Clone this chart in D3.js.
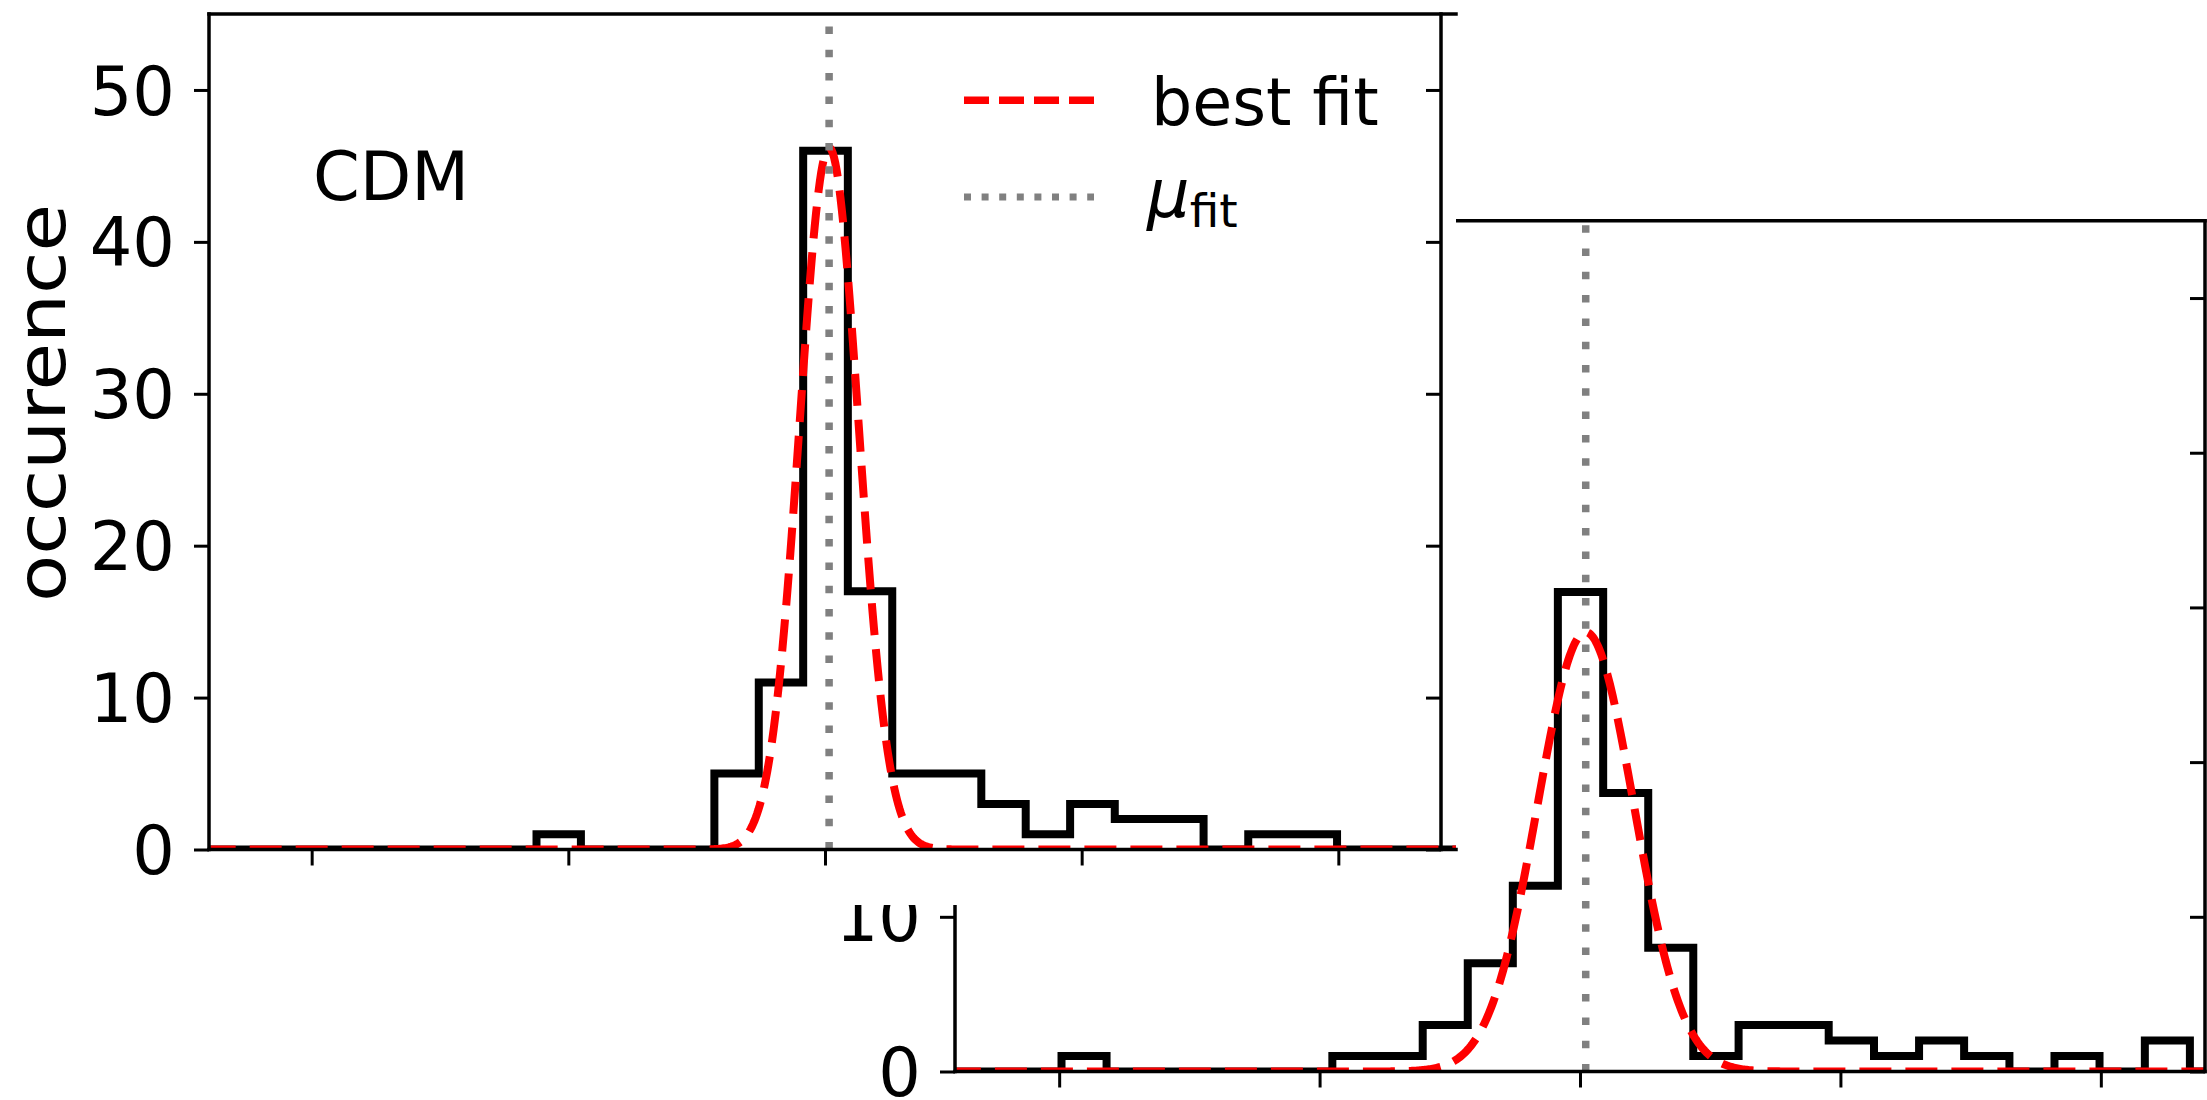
<!DOCTYPE html>
<html>
<head>
<meta charset="utf-8">
<script src="https://cdn.jsdelivr.net/npm/d3@7"></script>
<style>
body { margin: 0; background: #fff; }
text { font-family: "DejaVu Sans", sans-serif; fill: #000; }
</style>
</head>
<body>
<div id="chart"></div>
<script>

// shared bin edges of both histograms
var binEdges = [-2.511, -2.338, -2.165, -1.991, -1.818, -1.645, -1.471, -1.298, -1.124, -0.951,
                -0.778, -0.604, -0.431, -0.258, -0.085, 0.089, 0.262, 0.435, 0.609, 0.782,
                0.955, 1.129, 1.302, 1.475, 1.649, 1.822, 1.995, 2.169, 2.342, 2.515];

// counts per bin, front panel (CDM) and the panel behind it
var countsCDM   = [0, 0, 0, 0, 0, 0, 0, 0, 1, 0, 0, 0, 5, 11, 46, 17, 5, 5, 3, 1, 3, 2, 2, 0, 1, 1, 0, 0, 0];
var countsOther = [0, 0, 0, 1, 0, 0, 0, 0, 0, 1, 1, 3, 7, 12, 31, 18, 8, 1, 3, 3, 2, 1, 2, 1, 0, 1, 0, 2, 0];

// gaussian best fit parameters [CDM, other]
var fitMu    = [0.016, 0.022];
var fitSigma = [0.115, 0.185];
var fitAmp   = [46.2, 28.4];

var yTicks = [0, 10, 20, 30, 40, 50];
var xTicks = [-2, -1, 0, 1, 2];
var xDomain = [-2.4, 2.4];
var yDomain = [0, 55];

var svg = d3.select('#chart').append('svg')
    .attr('width', 2207)
    .attr('height', 1100);

var defs = svg.append('defs');

function drawPanel(id, box, counts, k) {
    var x = d3.scaleLinear().domain(xDomain).range([box.x0, box.x1]);
    var y = d3.scaleLinear().domain(yDomain).range([box.y1, box.y0]);

    defs.append('clipPath').attr('id', 'clip' + id)
        .append('rect')
        .attr('x', box.x0).attr('y', box.y0)
        .attr('width', box.clipX1 - box.x0).attr('height', box.y1 - box.y0);

    var g = svg.append('g');
    var inner = g.append('g').attr('clip-path', 'url(#clip' + id + ')');

    // step histogram
    var pts = [[binEdges[0], 0]];
    for (var i = 0; i < counts.length; i++) {
        pts.push([binEdges[i], counts[i]]);
        pts.push([binEdges[i + 1], counts[i]]);
    }
    pts.push([binEdges[binEdges.length - 1], 0]);

    var line = d3.line().x(d => x(d[0])).y(d => y(d[1]));

    inner.append('path')
        .attr('d', line(pts))
        .attr('fill', 'none')
        .attr('stroke', '#000')
        .attr('stroke-width', 8)
        .attr('stroke-linejoin', 'miter');

    // best fit curve
    var gx = d3.range(-2.6, 2.6, 0.005);
    var gauss = gx.map(v => [v, fitAmp[k] * Math.exp(-0.5 * Math.pow((v - fitMu[k]) / fitSigma[k], 2))]);
    inner.append('path')
        .attr('d', line(gauss))
        .attr('fill', 'none')
        .attr('stroke', '#ff0000')
        .attr('stroke-width', 8)
        .attr('stroke-dasharray', '32,14');

    // mu_fit
    inner.append('line')
        .attr('x1', x(fitMu[k])).attr('x2', x(fitMu[k]))
        .attr('y1', box.y1).attr('y2', box.y0)
        .attr('stroke', '#808080')
        .attr('stroke-width', 7.5)
        .attr('stroke-dasharray', '7.5,15.8');

    // spines
    var sp = g.append('g').attr('stroke', '#000').attr('stroke-width', 3.5).attr('stroke-linecap', 'square');
    sp.append('line').attr('x1', box.x0).attr('x2', box.x0).attr('y1', box.y0).attr('y2', box.y1);
    sp.append('line').attr('x1', box.x1).attr('x2', box.x1).attr('y1', box.y0).attr('y2', box.y1);
    sp.append('line').attr('x1', box.x0).attr('x2', box.clipX1).attr('y1', box.y0).attr('y2', box.y0);
    sp.append('line').attr('x1', box.x0).attr('x2', box.clipX1).attr('y1', box.y1).attr('y2', box.y1);

    // left axis with labels
    var left = g.append('g')
        .attr('transform', `translate(${box.x0},0)`)
        .call(d3.axisLeft(y).tickValues(yTicks).tickSize(15).tickPadding(19));
    left.select('.domain').remove();
    left.selectAll('line').attr('stroke-width', 3);
    left.selectAll('text')
        .attr('dy', '0.36em')
        .style('font-size', '67px')
        .style('font-family', '"DejaVu Sans", sans-serif');

    // right ticks pointing inward
    var right = g.append('g')
        .attr('transform', `translate(${box.x1},0)`)
        .call(d3.axisLeft(y).tickValues(yTicks).tickSize(15).tickFormat(''));
    right.select('.domain').remove();
    right.selectAll('line').attr('stroke-width', 3);

    // bottom ticks, no labels
    var bottom = g.append('g')
        .attr('transform', `translate(0,${box.y1})`)
        .call(d3.axisBottom(x).tickValues(xTicks).tickSize(16).tickFormat(''));
    bottom.select('.domain').remove();
    bottom.selectAll('line').attr('stroke-width', 3);

    return { g: g, x: x, y: y };
}

// panel behind
drawPanel('B', { x0: 955, x1: 2205, clipX1: 2205, y0: 220.7, y1: 1071.5 }, countsOther, 1);

// front figure covers the one behind
svg.append('rect').attr('x', 0).attr('y', 0).attr('width', 1456).attr('height', 905).attr('fill', '#fff');

// front panel (CDM)
var front = drawPanel('A', { x0: 209, x1: 1441, clipX1: 1456, y0: 14, y1: 849.5 }, countsCDM, 0);

front.g.append('text')
    .attr('x', 313).attr('y', 200)
    .style('font-size', '67px')
    .text('CDM');

front.g.append('text')
    .attr('transform', 'translate(65,403) rotate(-90)')
    .attr('text-anchor', 'middle')
    .attr('textLength', 398)
    .attr('lengthAdjust', 'spacingAndGlyphs')
    .style('font-size', '68px')
    .text('occurence');

// legend
var legend = front.g.append('g');
legend.append('line')
    .attr('x1', 964).attr('x2', 1094).attr('y1', 100.3).attr('y2', 100.3)
    .attr('stroke', '#ff0000').attr('stroke-width', 7.5).attr('stroke-dasharray', '25,10');
legend.append('text')
    .attr('x', 1151).attr('y', 125)
    .style('font-size', '65px')
    .text('best fit');
legend.append('line')
    .attr('x1', 964).attr('x2', 1094).attr('y1', 197).attr('y2', 197)
    .attr('stroke', '#808080').attr('stroke-width', 7).attr('stroke-dasharray', '7,10.6');
var mu = legend.append('text')
    .attr('x', 1147).attr('y', 217)
    .style('font-size', '67px');
mu.append('tspan').style('font-style', 'italic').text('μ');
mu.append('tspan').attr('dy', 10).style('font-size', '47px').text('fit');

</script>
</body>
</html>
